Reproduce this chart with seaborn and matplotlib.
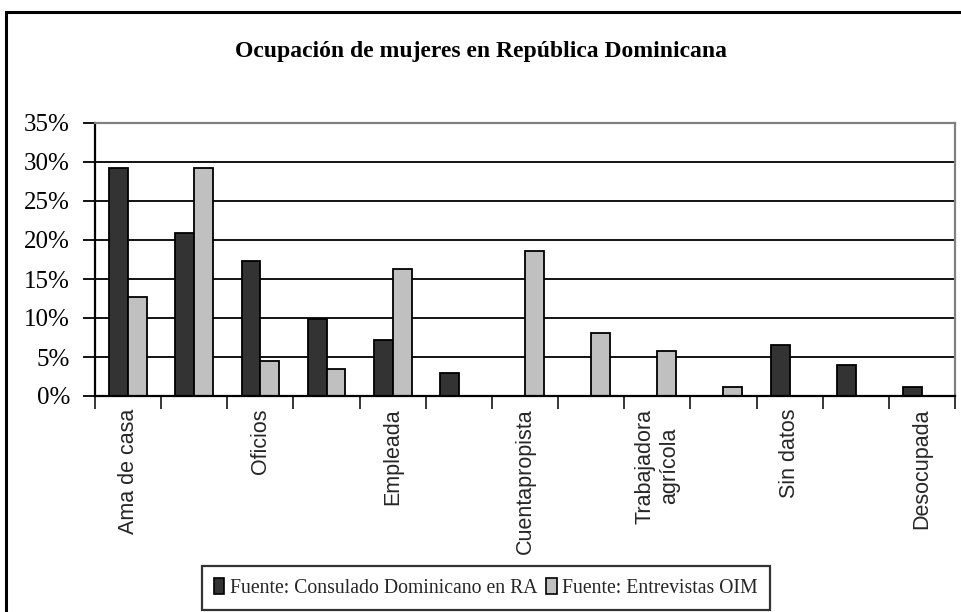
import matplotlib
matplotlib.use("Agg")
import matplotlib.pyplot as plt
import matplotlib.patches as mpatches
from matplotlib import font_manager
from matplotlib.ticker import FixedLocator, FuncFormatter
import numpy as np
import pandas as pd
import seaborn as sns

# ---------------- data ----------------
cat_id = list(range(13))
tick_labels = ["Ama de casa", "", "Oficios", "", "Empleada", "", "Cuentapropista", "",
               "Trabajadora\nagrícola", "", "Sin datos", "", "Desocupada"]
consulado = [29.2, 20.9, 17.3, 9.9, 7.2, 3.0, 0, 0, 0, 0, 6.6, 4.0, 1.2]
oim = [12.7, 29.2, 4.5, 3.5, 16.3, 0, 18.6, 8.1, 5.8, 1.2, 0, 0, 0]
series_names = ["Fuente: Consulado Dominicano en RA", "Fuente: Entrevistas OIM"]
title = "Ocupación de mujeres en República Dominicana"
y_ticks = [0, 5, 10, 15, 20, 25, 30, 35]

df = pd.DataFrame({
    "cat": cat_id * 2,
    "valor": consulado + oim,
    "fuente": [series_names[0]] * 13 + [series_names[1]] * 13,
})

sns.set_style("white")
names = {f.name for f in font_manager.fontManager.ttflist}
serif = "Liberation Serif" if "Liberation Serif" in names else "DejaVu Serif"
sans = "Liberation Sans" if "Liberation Sans" in names else "DejaVu Sans"
plt.rcParams["font.family"] = [serif, "DejaVu Serif"]

fig = plt.figure(figsize=(9.62, 6.12), dpi=100)
ax = fig.add_axes([95 / 962, 1 - 396 / 612, (955 - 95) / 962, (396 - 123) / 612])

sns.barplot(data=df, x="cat", y="valor", hue="fuente", ax=ax,
            palette=["#333333", "#c0c0c0"], width=0.57, gap=0,
            edgecolor="black", linewidth=1.3, saturation=1, legend=False)

ax.set_xlim(-0.5, 12.5)
ax.set_ylim(0, 35)
ax.set_xlabel("")
ax.set_ylabel("")

# gridlines
for v in y_ticks[1:-1]:
    ax.axhline(v, color="black", lw=1.3, zorder=0)
ax.set_axisbelow(True)

for s in ["left", "bottom"]:
    ax.spines[s].set_color("black")
    ax.spines[s].set_linewidth(1.6)
for s in ["top", "right"]:
    ax.spines[s].set_color("#808080")
    ax.spines[s].set_linewidth(1.6)

ax.yaxis.set_major_locator(FixedLocator(y_ticks))
ax.yaxis.set_major_formatter(FuncFormatter(lambda v, p: f"{v:.0f}%"))
ax.tick_params(axis="y", left=True, direction="out", length=9, width=1.3,
               pad=9, labelsize=18, colors="black")

ax.set_xticks(cat_id)
ax.set_xticklabels(tick_labels, rotation=90, fontfamily=sans, fontsize=15.5,
                   va="top", ha="center", multialignment="center")
ax.set_xticks(np.arange(-0.5, 13, 1), minor=True)
ax.tick_params(axis="x", which="major", length=0, pad=9)
ax.tick_params(axis="x", which="minor", bottom=True, direction="out", length=9, width=1.3)

fig.text(0.5005, 1 - 52 / 612, title, ha="center", va="center",
         fontsize=17, fontweight="bold", color="black")

handles = [mpatches.Patch(facecolor=c, edgecolor="black", lw=1.2)
           for c in ["#333333", "#c0c0c0"]]
leg = fig.legend(handles, series_names, loc="center", bbox_to_anchor=(0.505, 1 - 588 / 612),
                 ncol=2, frameon=True, fancybox=False, fontsize=14.2,
                 handlelength=0.55, handleheight=0.9, handletextpad=0.3,
                 columnspacing=0.4, borderpad=0.6, edgecolor="black")
leg.get_frame().set_linewidth(1.6)

# outer chart frame
fig.patches.append(mpatches.Rectangle((6 / 962, -0.1), 1.2, (612 - 12) / 612 + 0.1,
                                      transform=fig.transFigure, fill=False,
                                      edgecolor="black", lw=2.2))

fig.savefig("out.png", dpi=100)
